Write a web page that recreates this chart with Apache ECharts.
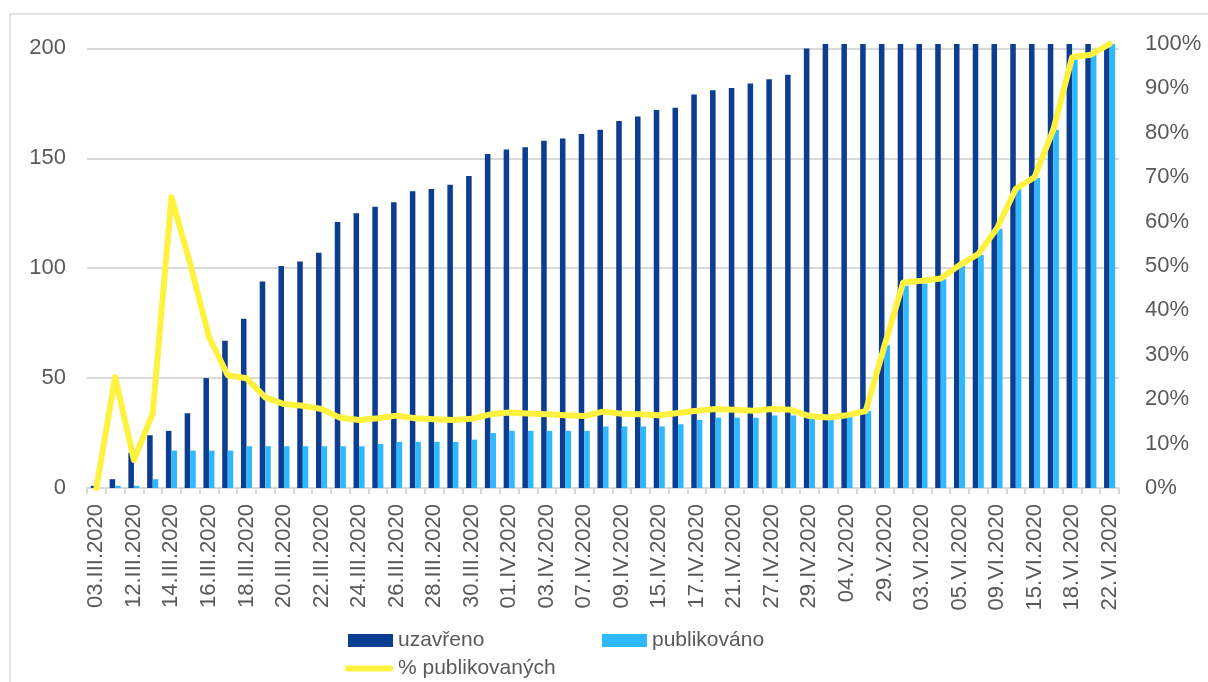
<!DOCTYPE html>
<html>
<head>
<meta charset="utf-8">
<title>uzavřeno / publikováno</title>
<script src="https://cdn.jsdelivr.net/npm/echarts@6.0.0/dist/echarts.min.js"></script>
<style>
    html, body { margin: 0; padding: 0; background: #fff; }
    #chart { width: 1208px; height: 682px; }
</style>
</head>
<body>
<div id="chart"></div>
<script>
// dates (only every second one is labelled on the axis)
let dates = [
    '03.III.2020', '11.III.2020', '12.III.2020', '13.III.2020', '14.III.2020', '15.III.2020',
    '16.III.2020', '17.III.2020', '18.III.2020', '19.III.2020', '20.III.2020', '21.III.2020',
    '22.III.2020', '23.III.2020', '24.III.2020', '25.III.2020', '26.III.2020', '27.III.2020',
    '28.III.2020', '29.III.2020', '30.III.2020', '31.III.2020', '01.IV.2020', '02.IV.2020',
    '03.IV.2020', '06.IV.2020', '07.IV.2020', '08.IV.2020', '09.IV.2020', '14.IV.2020',
    '15.IV.2020', '16.IV.2020', '17.IV.2020', '20.IV.2020', '21.IV.2020', '24.IV.2020',
    '27.IV.2020', '28.IV.2020', '29.IV.2020', '30.IV.2020', '04.V.2020', '12.V.2020',
    '29.V.2020', '01.VI.2020', '03.VI.2020', '04.VI.2020', '05.VI.2020', '08.VI.2020',
    '09.VI.2020', '12.VI.2020', '15.VI.2020', '16.VI.2020', '18.VI.2020', '19.VI.2020',
    '22.VI.2020'
];
let uzavreno = [
    1, 4, 16, 24, 26, 34, 50, 67, 77, 94, 101, 103, 107, 121, 125, 128, 130, 135, 136, 138,
    142, 152, 154, 155, 158, 159, 161, 163, 167, 169, 172, 173, 179, 181, 182, 184, 186, 188, 200, 202,
    202, 202, 202, 202, 202, 202, 202, 202, 202, 202, 202, 202, 202, 202, 202
];
let publikovano = [
    0, 1, 1, 4, 17, 17, 17, 17, 19, 19, 19, 19, 19, 19, 19, 20, 21, 21, 21, 21,
    22, 25, 26, 26, 26, 26, 26, 28, 28, 28, 28, 29, 31, 32, 32, 32, 33, 33, 32, 32,
    33, 35, 65, 92, 93, 95, 101, 106, 118, 136, 141, 163, 195, 197, 202
];
// % publikovaných, in percent
let procenta = [
    0, 25, 6.3, 16.8, 65.5, 50.5, 34, 25.4, 24.7, 20.4, 18.9, 18.5, 17.8, 15.8, 15.3, 15.7, 16.3, 15.7, 15.5, 15.3,
    15.6, 16.6, 17, 16.8, 16.6, 16.4, 16.2, 17.2, 16.7, 16.6, 16.4, 16.9, 17.4, 17.8, 17.6, 17.4, 17.8, 17.6, 16.2, 15.9,
    16.4, 17.3, 32, 46.3, 46.7, 47.2, 50.2, 52.7, 58.5, 67.4, 70, 80.7, 97, 97.6, 100
];

let font = '"Liberation Sans", Arial, sans-serif';
let textColor = '#595959';
let gridColor = '#d9d9d9';
let yellow = '#FFF23F';

let chart = echarts.init(document.getElementById('chart'));

let legendText = { color: textColor, fontSize: 21, fontFamily: font };

let option = {
    backgroundColor: '#fff',
    animation: false,
    textStyle: { fontFamily: font },
    graphic: [
        {
            type: 'rect',
            shape: { x: 10, y: 14, width: 1220, height: 700 },
            style: { fill: 'none', stroke: gridColor, lineWidth: 1.5 },
            silent: true
        }
    ],
    legend: [
        {
            data: ['uzavřeno'],
            left: 348, top: 630, padding: 0,
            icon: 'rect',
            itemWidth: 45, itemHeight: 13, itemGap: 5,
            textStyle: legendText
        },
        {
            data: ['publikováno'],
            left: 602, top: 630, padding: 0,
            icon: 'rect',
            itemWidth: 45, itemHeight: 13, itemGap: 5,
            textStyle: legendText
        },
        {
            data: ['% publikovaných'],
            left: 345, top: 658, padding: 0,
            icon: 'roundRect',
            itemWidth: 48, itemHeight: 6, itemGap: 5,
            itemStyle: { color: yellow },
            textStyle: legendText
        }
    ],
    grid: {
        left: 87,
        right: 89,
        top: 44,
        bottom: 194,
        containLabel: false
    },
    xAxis: {
        type: 'category',
        data: dates,
        axisLine: { lineStyle: { color: gridColor, width: 2 } },
        axisTick: { show: true, interval: 0, length: 6, lineStyle: { color: gridColor, width: 2 } },
        axisLabel: {
            interval: 1,
            rotate: 90,
            margin: 16,
            color: textColor,
            fontSize: 22,
            fontFamily: font
        }
    },
    yAxis: [
        {
            type: 'value',
            min: 0,
            max: 202,
            interval: 50,
            axisLine: { show: false },
            axisTick: { show: false },
            axisLabel: {
                showMaxLabel: false,
                margin: 21,
                color: textColor,
                fontSize: 22,
                fontFamily: font
            },
            splitLine: { showMaxLine: false, lineStyle: { color: gridColor, width: 2 } }
        },
        {
            type: 'value',
            min: 0,
            max: 100,
            interval: 10,
            axisLine: { show: false },
            axisTick: { show: false },
            splitLine: { show: false },
            axisLabel: {
                margin: 26,
                color: textColor,
                fontSize: 22,
                fontFamily: font,
                formatter: '{value}%'
            }
        }
    ],
    series: [
        {
            name: 'uzavřeno',
            type: 'bar',
            data: uzavreno,
            barGap: '0%',
            barCategoryGap: '41%',
            itemStyle: { color: '#0B3D91' }
        },
        {
            name: 'publikováno',
            type: 'bar',
            data: publikovano,
            itemStyle: { color: '#2EB8FF' }
        },
        {
            name: '% publikovaných',
            type: 'line',
            yAxisIndex: 1,
            data: procenta,
            symbol: 'none',
            lineStyle: { color: yellow, width: 6, join: 'round', cap: 'round' },
            itemStyle: { color: yellow }
        }
    ]
};
chart.setOption(option);
</script>
</body>
</html>
